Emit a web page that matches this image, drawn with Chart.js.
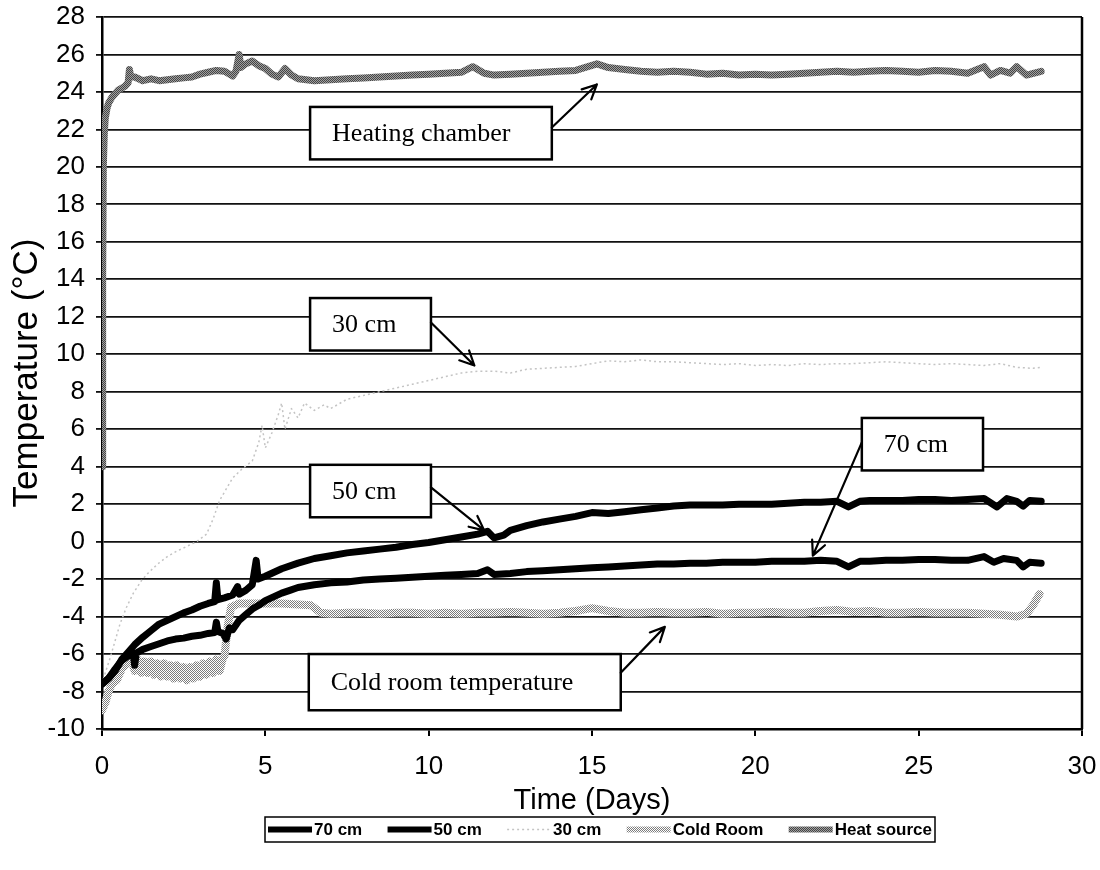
<!DOCTYPE html>
<html>
<head>
<meta charset="utf-8">
<style>
  html, body { margin: 0; padding: 0; background: #fff; }
  #tempChart { display: block; }
</style>
</head>
<body>
<canvas id="tempChart" width="1100" height="870"></canvas>
<script src="https://cdn.jsdelivr.net/npm/chart.js"></script>
<script>
// logger readings: time in days, temperature in °C

const days70 = [0, 0.2, 0.4, 0.6, 0.8, 0.95, 1.0, 1.05, 1.25, 1.5, 1.75, 2.0, 2.25, 2.5, 2.75, 3.0, 3.25, 3.45, 3.5, 3.55, 3.7, 3.8, 3.9, 4.0, 4.2, 4.4, 4.6, 4.8, 5.0, 5.25, 5.5, 5.75, 6.0, 6.5, 7.0, 7.5, 8.0, 8.5, 9.0, 9.5, 10.0, 10.5, 11.0, 11.5, 11.8, 12.0, 12.5, 13.0, 13.5, 14.0, 14.5, 15.0, 15.5, 16.0, 16.5, 17.0, 17.5, 18.0, 18.5, 19.0, 19.5, 20.0, 20.5, 21.0, 21.5, 22.0, 22.5, 22.85, 23.2, 23.5, 24.0, 24.5, 25.0, 25.5, 26.0, 26.5, 27.0, 27.3, 27.6, 28.0, 28.2, 28.4, 28.75];
const temp70 = [-7.6, -7.3, -6.8, -6.35, -6.1, -5.95, -6.6, -5.95, -5.75, -5.6, -5.45, -5.3, -5.2, -5.15, -5.05, -5.0, -4.9, -4.85, -4.3, -4.8, -4.9, -5.2, -4.6, -4.7, -4.2, -3.9, -3.6, -3.4, -3.15, -2.95, -2.75, -2.6, -2.45, -2.3, -2.2, -2.15, -2.05, -2.0, -1.95, -1.9, -1.85, -1.8, -1.75, -1.7, -1.5, -1.75, -1.7, -1.6, -1.55, -1.5, -1.45, -1.4, -1.35, -1.3, -1.25, -1.2, -1.2, -1.15, -1.15, -1.1, -1.1, -1.1, -1.05, -1.05, -1.05, -1.0, -1.05, -1.35, -1.05, -1.05, -1.0, -1.0, -0.95, -0.95, -1.0, -1.0, -0.8, -1.1, -0.9, -1.0, -1.35, -1.1, -1.15];

const days50 = [0, 0.2, 0.4, 0.6, 0.8, 1.0, 1.25, 1.5, 1.75, 2.0, 2.25, 2.5, 2.75, 3.0, 3.25, 3.45, 3.5, 3.55, 3.75, 4.0, 4.15, 4.2, 4.4, 4.6, 4.72, 4.78, 5.0, 5.5, 6.0, 6.5, 7.0, 7.5, 8.0, 8.5, 9.0, 9.5, 10.0, 10.5, 11.0, 11.5, 11.8, 12.0, 12.3, 12.5, 13.0, 13.5, 14.0, 14.5, 15.0, 15.5, 16.0, 16.5, 17.0, 17.5, 18.0, 18.5, 19.0, 19.5, 20.0, 20.5, 21.0, 21.5, 22.0, 22.5, 22.85, 23.2, 23.5, 24.0, 24.5, 25.0, 25.5, 26.0, 26.5, 27.0, 27.4, 27.7, 28.0, 28.2, 28.4, 28.75];
const temp50 = [-7.6, -7.3, -6.9, -6.3, -5.9, -5.5, -5.1, -4.75, -4.4, -4.2, -4.0, -3.8, -3.65, -3.45, -3.3, -3.2, -2.2, -3.1, -3.0, -2.85, -2.4, -2.8, -2.6, -2.3, -1.0, -2.0, -1.85, -1.45, -1.15, -0.9, -0.75, -0.6, -0.5, -0.4, -0.3, -0.15, -0.05, 0.1, 0.25, 0.4, 0.55, 0.2, 0.35, 0.6, 0.85, 1.05, 1.2, 1.35, 1.55, 1.5, 1.6, 1.7, 1.8, 1.9, 1.95, 1.95, 1.95, 2.0, 2.0, 2.0, 2.05, 2.1, 2.1, 2.15, 1.85, 2.15, 2.2, 2.2, 2.2, 2.25, 2.25, 2.2, 2.25, 2.3, 1.85, 2.3, 2.15, 1.9, 2.2, 2.15];

const days30 = [0, 0.1, 0.25, 0.4, 0.55, 0.75, 0.96, 1.2, 1.4, 1.7, 2.0, 2.3, 2.6, 2.9, 3.2, 3.4, 3.6, 3.8, 4.0, 4.3, 4.6, 4.8, 4.9, 5.0, 5.2, 5.4, 5.5, 5.6, 5.8, 6.0, 6.2, 6.5, 6.8, 7.0, 7.5, 8.0, 8.5, 9.0, 9.5, 10.0, 10.5, 11.0, 11.5, 12.0, 12.5, 13.0, 13.5, 14.0, 14.5, 15.0, 15.5, 16.0, 16.5, 17.0, 17.5, 18.0, 18.5, 19.0, 19.5, 20.0, 20.5, 21.0, 21.5, 22.0, 22.5, 23.0, 23.5, 24.0, 24.5, 25.0, 25.5, 26.0, 26.5, 27.0, 27.5, 28.0, 28.5, 28.75];
const temp30 = [-7.6, -7.0, -6.2, -5.3, -4.4, -3.5, -2.75, -2.1, -1.7, -1.2, -0.8, -0.5, -0.25, 0.0, 0.4, 1.2, 2.2, 2.8, 3.4, 3.9, 4.3, 5.3, 6.2, 5.0, 5.8, 6.8, 7.4, 6.0, 7.1, 6.6, 7.4, 7.0, 7.3, 7.1, 7.6, 7.8, 8.0, 8.2, 8.4, 8.6, 8.8, 9.0, 9.1, 9.1, 9.0, 9.2, 9.25, 9.3, 9.35, 9.5, 9.65, 9.6, 9.7, 9.6, 9.6, 9.55, 9.5, 9.45, 9.5, 9.4, 9.45, 9.4, 9.5, 9.45, 9.5, 9.5, 9.55, 9.6, 9.55, 9.5, 9.45, 9.5, 9.45, 9.4, 9.5, 9.3, 9.25, 9.3];

const daysCold = [0, 0.1, 0.2, 0.3, 0.45, 0.6, 0.75, 0.9, 1.0, 1.1, 1.2, 1.3, 1.4, 1.5, 1.6, 1.7, 1.8, 1.9, 2.0, 2.1, 2.2, 2.3, 2.4, 2.5, 2.6, 2.7, 2.8, 2.9, 3.0, 3.1, 3.2, 3.3, 3.4, 3.5, 3.6, 3.7, 3.75, 3.85, 3.95, 4.2, 4.5, 5.0, 5.5, 6.0, 6.4, 6.7, 7.0, 7.5, 8.0, 8.5, 9.0, 9.5, 10.0, 10.5, 11.0, 11.5, 12.0, 12.5, 13.0, 13.5, 14.0, 14.5, 15.0, 15.5, 16.0, 16.5, 17.0, 17.5, 18.0, 18.5, 19.0, 19.5, 20.0, 20.5, 21.0, 21.5, 22.0, 22.5, 23.0, 23.5, 24.0, 24.5, 25.0, 25.5, 26.0, 26.5, 27.0, 27.5, 28.0, 28.3, 28.5, 28.7];
const tempCold = [-9.0, -8.6, -8.0, -7.6, -7.4, -6.8, -6.5, -6.3, -6.9, -6.3, -7.0, -6.4, -7.0, -6.4, -7.1, -6.5, -7.2, -6.5, -7.2, -6.6, -7.3, -6.6, -7.3, -6.7, -7.4, -6.7, -7.3, -6.6, -7.2, -6.5, -7.1, -6.4, -7.0, -6.3, -6.9, -6.2, -6.1, -4.5, -3.5, -3.3, -3.3, -3.3, -3.3, -3.35, -3.4, -3.8, -3.85, -3.8, -3.8, -3.85, -3.8, -3.8, -3.85, -3.8, -3.85, -3.8, -3.8, -3.75, -3.8, -3.85, -3.8, -3.7, -3.55, -3.7, -3.8, -3.8, -3.75, -3.8, -3.8, -3.75, -3.85, -3.8, -3.8, -3.75, -3.8, -3.8, -3.7, -3.65, -3.75, -3.7, -3.8, -3.8, -3.75, -3.8, -3.8, -3.8, -3.85, -3.9, -4.0, -3.85, -3.4, -2.8];

const daysHeat = [0, 0.02, 0.04, 0.07, 0.1, 0.15, 0.2, 0.3, 0.4, 0.5, 0.6, 0.7, 0.8, 0.84, 0.88, 1.0, 1.25, 1.5, 1.75, 2.0, 2.25, 2.5, 2.75, 3.0, 3.25, 3.5, 3.75, 4.0, 4.1, 4.2, 4.25, 4.4, 4.6, 4.8, 5.0, 5.2, 5.4, 5.6, 5.8, 6.0, 6.5, 7.0, 7.5, 8.0, 8.5, 9.0, 9.5, 10.0, 10.5, 11.0, 11.35, 11.7, 12.0, 12.5, 13.0, 13.5, 14.0, 14.5, 15.15, 15.5, 16.0, 16.5, 17.0, 17.5, 18.0, 18.5, 19.0, 19.5, 20.0, 20.5, 21.0, 21.5, 22.0, 22.5, 23.0, 23.5, 24.0, 24.5, 25.0, 25.5, 26.0, 26.5, 27.0, 27.2, 27.5, 27.8, 28.0, 28.3, 28.75];
const tempHeat = [4.0, 14.0, 20.0, 21.8, 22.6, 23.1, 23.4, 23.7, 23.9, 24.1, 24.2, 24.3, 24.5, 25.2, 24.8, 24.8, 24.6, 24.7, 24.6, 24.65, 24.7, 24.75, 24.8, 24.95, 25.05, 25.15, 25.1, 24.85, 25.1, 26.0, 25.3, 25.5, 25.65, 25.4, 25.25, 24.95, 24.8, 25.25, 24.9, 24.7, 24.6, 24.65, 24.7, 24.75, 24.8, 24.85, 24.9, 24.95, 25.0, 25.05, 25.35, 25.0, 24.9, 24.95, 25.0, 25.05, 25.1, 25.15, 25.5, 25.3, 25.2, 25.1, 25.05, 25.1, 25.05, 24.95, 25.0, 24.9, 24.95, 24.9, 24.95, 25.0, 25.05, 25.1, 25.05, 25.1, 25.15, 25.1, 25.05, 25.15, 25.1, 25.0, 25.35, 24.9, 25.15, 25.0, 25.35, 24.9, 25.1];

const seriesNames = ['70 cm', '50 cm', '30 cm', 'Cold Room', 'Heat source'];
const xTickValues = [0, 5, 10, 15, 20, 25, 30];
const yTickValues = [-10, -8, -6, -4, -2, 0, 2, 4, 6, 8, 10, 12, 14, 16, 18, 20, 22, 24, 26, 28];

// text boxes with arrows, in data units: box = [x1, yTop, x2, yBottom]
const callouts = [
  { text: 'Heating chamber', box: [6.37, 23.2, 13.77, 20.4], from: [13.77, 22.1], to: [15.15, 24.4] },
  { text: '30 cm', box: [6.37, 13.0, 10.07, 10.2], from: [10.07, 11.7], to: [11.4, 9.4] },
  { text: '50 cm', box: [6.37, 4.1, 10.07, 1.3], from: [10.07, 2.9], to: [11.7, 0.6] },
  { text: '70 cm', box: [23.26, 6.6, 26.97, 3.8], from: [23.26, 5.3], to: [21.76, -0.75] },
  { text: 'Cold room temperature', box: [6.33, -6.0, 15.88, -9.0], from: [15.88, -7.0], to: [17.23, -4.55] }
];

const sans = '"Liberation Sans", Arial, sans-serif';
const serif = '"Liberation Serif", "Times New Roman", serif';

// dotted textures for the two patterned traces
function dotPattern(base, dot) {
  const c = document.createElement('canvas');
  c.width = 2; c.height = 2;
  const g = c.getContext('2d');
  g.fillStyle = base; g.fillRect(0, 0, 2, 2);
  g.fillStyle = dot; g.fillRect(0, 0, 1, 1); g.fillRect(1, 1, 1, 1);
  return g.createPattern(c, 'repeat');
}
const heatTexture = dotPattern('#a0a0a0', '#454545');
const coldTexture = dotPattern('#ffffff', '#7c7c7c');

function pts(xs, ys) {
  return xs.map((x, i) => ({ x: x, y: ys[i] }));
}

const styles = [
  { color: '#000', width: 7, dash: [] },
  { color: '#000', width: 7, dash: [] },
  { color: '#c4c4c4', width: 1.5, dash: [2, 3] },
  { color: coldTexture, width: 8, dash: [] },
  { color: heatTexture, width: 7, dash: [] }
];
const values = [pts(days70, temp70), pts(days50, temp50), pts(days30, temp30), pts(daysCold, tempCold), pts(daysHeat, tempHeat)];

const datasets = seriesNames.map((name, i) => ({
  label: name,
  data: values[i],
  borderColor: styles[i].color,
  backgroundColor: styles[i].color,
  borderWidth: styles[i].width,
  borderDash: styles[i].dash,
  borderJoinStyle: 'round',
  borderCapStyle: i === 2 ? 'butt' : 'round',
  pointRadius: 0,
  tension: 0,
  fill: false
}));

const calloutPlugin = {
  id: 'callouts',
  afterDatasetsDraw(chart) {
    const ctx = chart.ctx;
    const xs = chart.scales.x, ys = chart.scales.y;
    ctx.save();
    callouts.forEach(c => {
      const x1 = xs.getPixelForValue(c.box[0]), y1 = ys.getPixelForValue(c.box[1]);
      const x2 = xs.getPixelForValue(c.box[2]), y2 = ys.getPixelForValue(c.box[3]);
      ctx.fillStyle = '#fff';
      ctx.fillRect(x1, y1, x2 - x1, y2 - y1);
      ctx.strokeStyle = '#000';
      ctx.lineWidth = 2.5;
      ctx.strokeRect(x1, y1, x2 - x1, y2 - y1);
      ctx.fillStyle = '#000';
      ctx.font = '26px ' + serif;
      ctx.textAlign = 'left';
      ctx.textBaseline = 'middle';
      ctx.fillText(c.text, x1 + 22, (y1 + y2) / 2 + 1);

      // arrow with open head
      const ax = xs.getPixelForValue(c.from[0]), ay = ys.getPixelForValue(c.from[1]);
      const bx = xs.getPixelForValue(c.to[0]), by = ys.getPixelForValue(c.to[1]);
      const ang = Math.atan2(by - ay, bx - ax);
      ctx.lineWidth = 2.2;
      ctx.lineCap = 'round';
      ctx.beginPath();
      ctx.moveTo(ax, ay);
      ctx.lineTo(bx, by);
      for (const s of [-1, 1]) {
        ctx.moveTo(bx, by);
        ctx.lineTo(bx - 16 * Math.cos(ang + s * 0.45), by - 16 * Math.sin(ang + s * 0.45));
      }
      ctx.stroke();
    });
    ctx.restore();
  },
  afterDraw(chart) {
    const ctx = chart.ctx;
    const a = chart.chartArea;
    ctx.save();
    // right frame edge
    ctx.strokeStyle = '#000';
    ctx.lineWidth = 2.5;
    ctx.beginPath();
    ctx.moveTo(a.right, a.top);
    ctx.lineTo(a.right, a.bottom);
    ctx.stroke();

    // legend row in a framed box under the axis title
    const top = 817, bottom = 842, left = 265, right = 935;
    ctx.fillStyle = '#fff';
    ctx.fillRect(left, top, right - left, bottom - top);
    ctx.lineWidth = 1.5;
    ctx.strokeRect(left, top, right - left, bottom - top);
    ctx.font = 'bold 17px ' + sans;
    ctx.textBaseline = 'middle';
    ctx.textAlign = 'left';
    const cy = (top + bottom) / 2;
    const labels = chart.data.datasets.map(ds => ds.label);
    const textW = labels.reduce((s, t) => s + ctx.measureText(t).width, 0);
    const lineLen = 44;
    const gap = (right - left - 6 - textW - labels.length * (lineLen + 2)) / (labels.length - 1);
    let x = left + 3;
    chart.data.datasets.forEach(ds => {
      ctx.save();
      ctx.strokeStyle = ds.borderColor;
      ctx.lineWidth = Math.min(ds.borderWidth, 6);
      ctx.setLineDash(ds.borderDash || []);
      ctx.beginPath();
      ctx.moveTo(x, cy);
      ctx.lineTo(x + lineLen, cy);
      ctx.stroke();
      ctx.restore();
      ctx.fillStyle = '#000';
      ctx.fillText(ds.label, x + lineLen + 2, cy + 1);
      x += lineLen + 2 + ctx.measureText(ds.label).width + gap;
    });
    ctx.restore();
  }
};

new Chart(document.getElementById('tempChart'), {
  type: 'line',
  data: { datasets: datasets },
  options: {
    responsive: false,
    devicePixelRatio: 1,
    animation: false,
    events: [],
    layout: { padding: { left: 0, top: 17, right: 18, bottom: 0 } },
    plugins: { legend: { display: false }, tooltip: { enabled: false } },
    scales: {
      x: {
        type: 'linear',
        min: 0, max: 30,
        afterBuildTicks: s => { s.ticks = xTickValues.map(v => ({ value: v })); },
        afterFit: s => { s.height = 141; s.paddingLeft = 0; s.paddingRight = 0; },
        grid: { drawOnChartArea: false, drawTicks: true, tickLength: 7, color: '#000', lineWidth: 2 },
        border: { color: '#000', width: 2.5 },
        ticks: { color: '#000', font: { family: sans, size: 26 }, padding: 15, maxRotation: 0 },
        title: { display: true, text: 'Time (Days)', color: '#000', font: { family: sans, size: 29 }, padding: { top: 0, bottom: 52 } }
      },
      y: {
        type: 'linear',
        min: -10, max: 28,
        afterBuildTicks: s => { s.ticks = yTickValues.map(v => ({ value: v })); },
        afterFit: s => { s.width = 102; s.paddingTop = 0; s.paddingBottom = 0; },
        grid: { color: '#111', lineWidth: 1.8, tickLength: 6 },
        border: { color: '#000', width: 2.5 },
        ticks: { color: '#000', font: { family: sans, size: 26 }, padding: 11 },
        title: { display: true, text: 'Temperature (°C)', color: '#000', font: { family: sans, size: 35 }, padding: { top: 6, bottom: 0 } }
      }
    }
  },
  plugins: [calloutPlugin]
});
</script>
</body>
</html>
